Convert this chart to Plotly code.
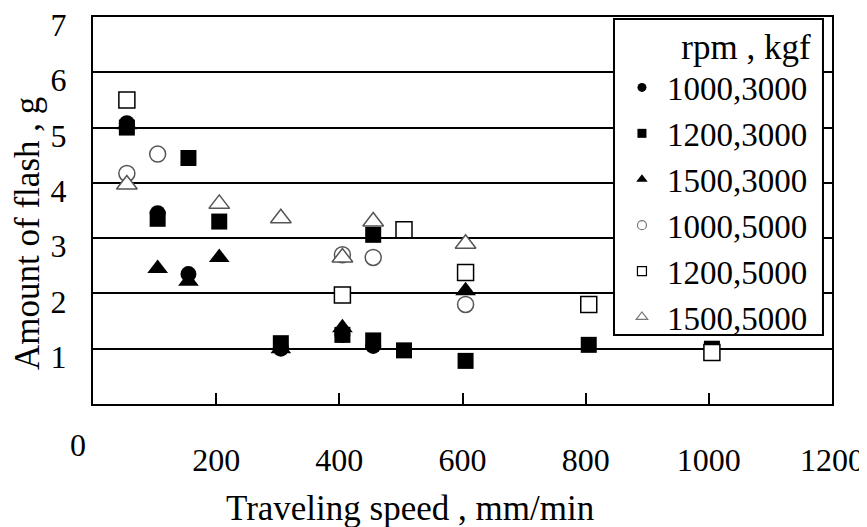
import plotly.graph_objects as go

# ---- data ----
speed_1000_3000 = [55, 105, 155, 305, 405, 455]
flash_1000_3000 = [5.08, 3.45, 2.35, 1.00, 1.25, 1.05]

speed_1200_3000 = [55, 105, 155, 205, 305, 405, 455, 455, 505, 605, 805, 1005]
flash_1200_3000 = [5.00, 3.35, 4.45, 3.30, 1.10, 1.25, 3.06, 1.15, 0.97, 0.78, 1.07, 1.00]

speed_1500_3000 = [55, 105, 155, 205, 305, 405, 605]
flash_1500_3000 = [5.05, 2.45, 2.22, 2.65, 1.00, 1.38, 2.05]

speed_1000_5000 = [55, 105, 405, 455, 605]
flash_1000_5000 = [4.17, 4.52, 2.70, 2.65, 1.80]

speed_1200_5000 = [55, 405, 505, 605, 805, 1005]
flash_1200_5000 = [5.50, 1.97, 3.15, 2.38, 1.80, 0.93]

speed_1500_5000 = [55, 205, 305, 405, 455, 605]
flash_1500_5000 = [3.97, 3.62, 3.36, 2.65, 3.30, 2.90]

series_names = ["1000,3000", "1200,3000", "1500,3000", "1000,5000", "1200,5000", "1500,5000"]
x_ticks = [200, 400, 600, 800, 1000, 1200]
y_ticks = [1, 2, 3, 4, 5, 6, 7]

FONT = "Liberation Serif, Times New Roman, serif"

styles = [
    dict(symbol="circle", size=16, color="black", line=dict(color="black", width=0)),
    dict(symbol="square", size=16, color="black", line=dict(color="black", width=0)),
    dict(symbol="triangle-up", size=18, color="black", line=dict(color="black", width=0)),
    dict(symbol="circle", size=16, color="white", line=dict(color="#555555", width=1.5)),
    dict(symbol="square", size=16, color="white", line=dict(color="black", width=1.5)),
    dict(symbol="triangle-up", size=18, color="white", line=dict(color="#555555", width=1.5)),
]
legend_styles = [
    dict(symbol="circle", size=9, color="black"),
    dict(symbol="square", size=9, color="black"),
    dict(symbol="triangle-up", size=10, color="black"),
    dict(symbol="circle", size=9, color="white", line=dict(color="#777777", width=1.2)),
    dict(symbol="square", size=9, color="white", line=dict(color="black", width=1.2)),
    dict(symbol="triangle-up", size=10, color="white", line=dict(color="#777777", width=1.2)),
]

xs = [speed_1000_3000, speed_1200_3000, speed_1500_3000, speed_1000_5000, speed_1200_5000, speed_1500_5000]
ys = [flash_1000_3000, flash_1200_3000, flash_1500_3000, flash_1000_5000, flash_1200_5000, flash_1500_5000]

fig = go.Figure()
for name, x, y, st in zip(series_names, xs, ys, styles):
    fig.add_trace(go.Scatter(x=x, y=y, mode="markers", name=name, marker=st,
                             showlegend=False, legendgroup=name))
for name, st in zip(series_names, legend_styles):
    fig.add_trace(go.Scatter(x=[None], y=[None], mode="markers", name=name, marker=st,
                             showlegend=True, legendgroup=name))

fig.update_layout(
    width=867, height=527,
    margin=dict(l=85, r=43, t=9, b=131, autoexpand=False),
    paper_bgcolor="white", plot_bgcolor="white",
    font=dict(family=FONT, size=32, color="black"),
    showlegend=True,
    legend=dict(
        x=0.709, xanchor="left", y=0.1525, yanchor="bottom",
        bgcolor="rgba(0,0,0,0)", borderwidth=0,
        font=dict(family=FONT, size=33, color="black"),
        title=dict(text="rpm , kgf", side="top right", font=dict(family=FONT, size=35)),
        itemwidth=40, traceorder="grouped", tracegroupgap=0,
    ),
    shapes=[dict(type="rect", xref="paper", yref="paper",
                 x0=0.705, x1=0.9878, y0=0.1783, y1=0.9948,
                 fillcolor="white", line=dict(color="black", width=2), layer="above")],
    xaxis=dict(
        range=[0, 1200], tickvals=x_ticks, ticktext=[str(v) for v in x_ticks],
        showline=True, linecolor="black", linewidth=2, mirror=True,
        ticks="inside", ticklen=11, tickwidth=1.5, tickcolor="black",
        showgrid=False, zeroline=False, automargin=False,
        tickfont=dict(family=FONT, size=32), ticklabeloverflow="allow",
        ticklabelstandoff=27,
    ),
    yaxis=dict(
        range=[0, 7], tickvals=y_ticks, ticktext=[str(v) for v in y_ticks],
        showline=True, linecolor="black", linewidth=2, mirror=True,
        ticks="", showgrid=True, gridcolor="black", gridwidth=1.5, zeroline=False,
        automargin=False, ticklabeloverflow="allow",
        tickfont=dict(family=FONT, size=32),
        ticklabelstandoff=18, ticklabelshift=8,
    ),
    annotations=[
        dict(text="0", x=-0.0203, y=-0.106, xref="paper", yref="paper",
             xanchor="center", yanchor="middle",
             showarrow=False, font=dict(family=FONT, size=32)),
        dict(text="Traveling speed , mm/min", x=0.429, y=-0.269, xref="paper", yref="paper",
             xanchor="center", yanchor="middle",
             showarrow=False, font=dict(family=FONT, size=35)),
        dict(text="Amount of flash , g", x=-0.088, y=0.442, xref="paper", yref="paper",
             xanchor="center", yanchor="middle", textangle=-90,
             showarrow=False, font=dict(family=FONT, size=35)),
    ],
)

fig.write_html("out.html")
